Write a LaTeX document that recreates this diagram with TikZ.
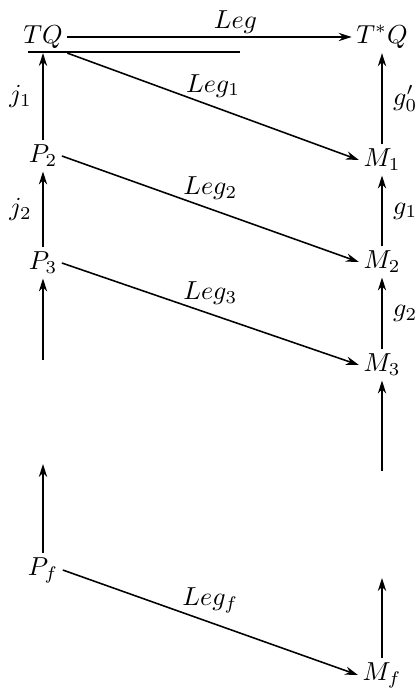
\documentclass[tikz,border=0pt]{standalone}
\usepackage{amsmath,amssymb}
\usepackage{tikz}
\usetikzlibrary{arrows.meta}

\begin{document}
\begin{tikzpicture}[x=0.0135cm, y=-0.0135cm, semithick,
        obj/.style={inner sep=1.5pt},
        map/.style={-{Stealth[length=5pt,width=3.2pt]}},
        lbl/.style={inner sep=4pt}]
        \useasboundingbox (0,0) rectangle (418,691);

        % 1. Left column (tangent side)
        \node[obj] (TQ) at (43, 37) {$TQ$};
        \node[obj] (P2) at (43, 156) {$P_2$};
        \node[obj] (P3) at (43, 263) {$P_3$};
        \node[obj] (Pf) at (43, 570) {$P_f$};

        % 2. Right column (cotangent side)
        \node[obj] (TsQ) at (382, 37) {$T^*Q$};
        \node[obj] (M1) at (382, 160) {$M_1$};
        \node[obj] (M2) at (382, 262) {$M_2$};
        \node[obj] (M3) at (382, 365) {$M_3$};
        \node[obj] (Mf) at (382, 675) {$M_f$};

        % Free ends of the broken columns
        \coordinate (P3low) at (43, 360);
        \coordinate (Pfup) at (43, 464);
        \coordinate (M3low) at (382, 471);
        \coordinate (Mfup) at (382, 578);
        \coordinate (barL) at (28, 52);
        \coordinate (barR) at (240, 52);

        % 3. Legendre maps
        \draw[map] (TQ) -- (TsQ) node[midway, above, inner sep=1pt, xshift=10pt] {$Leg$};
        \draw (barL) -- (barR);
        \draw[map] (TQ.south east) -- (M1.west) node[midway, above] {$Leg_1$};
        \draw[map] (P2.east) -- (M2.west) node[midway, above] {$Leg_2$};
        \draw[map] (P3.east) -- (M3.west) node[midway, above] {$Leg_3$};
        \draw[map] (Pf.east) -- (Mf.west) node[midway, above] {$Leg_f$};

        % 4. Inclusions on the left
        \draw[map] (P2) -- (TQ) node[lbl, midway, left] {$j_1$};
        \draw[map] (P3) -- (P2) node[lbl, midway, left] {$j_2$};
        \draw[map] (P3low) -- (P3);
        \draw[map] (Pf) -- (Pfup);

        % 5. Maps on the right
        \draw[map] (M1) -- (TsQ) node[lbl, midway, right] {$g_0'$};
        \draw[map] (M2) -- (M1) node[lbl, midway, right] {$g_1$};
        \draw[map] (M3) -- (M2) node[lbl, midway, right] {$g_2$};
        \draw[map] (M3low) -- (M3);
        \draw[map] (Mf) -- (Mfup);
\end{tikzpicture}
\end{document}
